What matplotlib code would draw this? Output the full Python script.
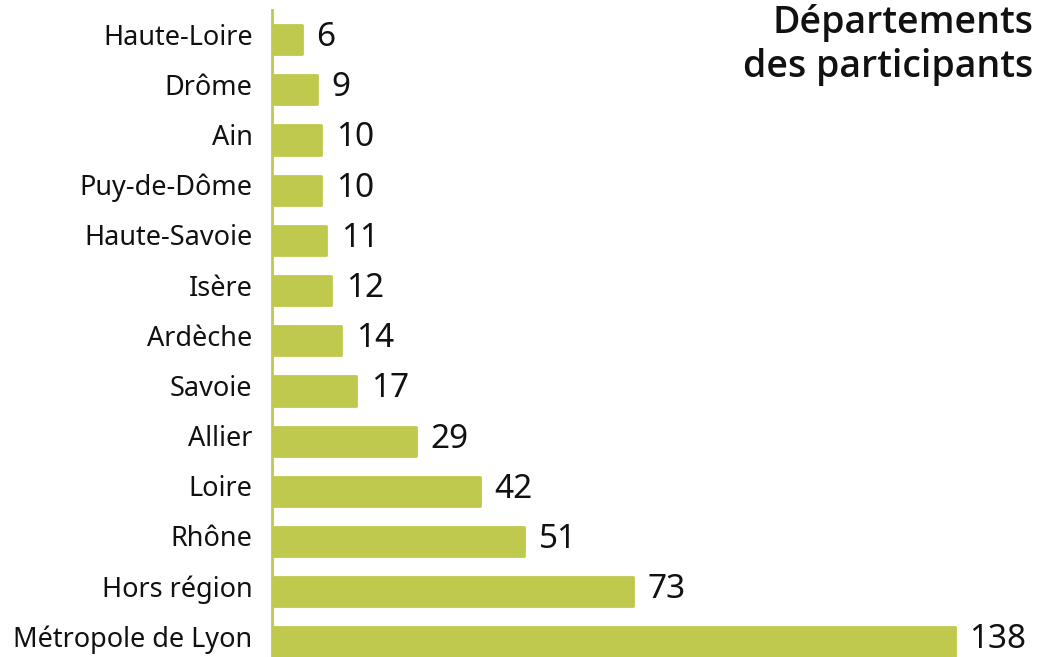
import matplotlib
matplotlib.use("Agg")
import matplotlib.pyplot as plt
from matplotlib.transforms import ScaledTranslation

plt.rcParams['font.family'] = ['Noto Sans', 'DejaVu Sans']

departements = ["Métropole de Lyon", "Hors région", "Rhône", "Loire", "Allier",
                "Savoie", "Ardèche", "Isère", "Haute-Savoie", "Puy-de-Dôme",
                "Ain", "Drôme", "Haute-Loire"]
participants = [138, 73, 51, 42, 29, 17, 14, 12, 11, 10, 10, 9, 6]

vert = "#bfc94e"
texte = "#111111"

fig = plt.figure(figsize=(10.45, 6.57), dpi=100)
ax = fig.add_axes([272 / 1045, 0, 773 / 1045, 647 / 657])

pos = list(range(len(departements)))
# thick round-joined edge gives the bars softened corners
bars = ax.barh(pos, participants, height=0.58, color=vert,
               edgecolor=vert, linewidth=2, joinstyle="round")

for y, v in zip(pos, participants):
    ax.annotate(str(v), xy=(v, y), xytext=(10.5, 1.5), textcoords="offset points",
                ha="left", va="center", fontsize=24, color=texte)

ax.set_xlim(0, 156.2)
ax.set_ylim(-0.30, 12.59)
ax.set_yticks(pos)
ax.set_yticklabels(departements, fontsize=19.5, color=texte)
ax.tick_params(axis="y", length=0, pad=14)
ax.set_xticks([])
# lift the category names slightly above the bar centres
lift = ScaledTranslation(0, 4 / 72, fig.dpi_scale_trans)
for lab in ax.get_yticklabels():
    lab.set_transform(lab.get_transform() + lift)

for side in ["top", "right", "bottom"]:
    ax.spines[side].set_visible(False)
ax.spines["left"].set_color(vert)
ax.spines["left"].set_linewidth(2)

fig.text(1033 / 1045, 1 - 4 / 657, "Départements\ndes participants",
         ha="right", va="top", fontsize=27, fontweight=600,
         family=['Open Sans', 'Roboto', 'DejaVu Sans'],
         color=texte, linespacing=1.2)

fig.savefig("out.png", dpi=100)
